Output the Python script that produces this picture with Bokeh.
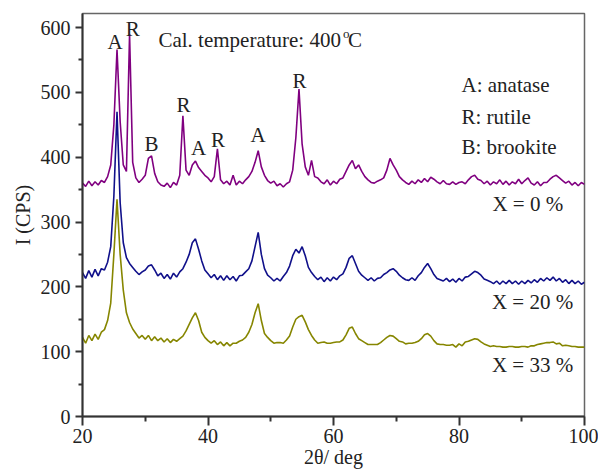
from bokeh.plotting import figure
from bokeh.models import FixedTicker, Range1d, ColumnDataSource
from bokeh.core.properties import value
from bokeh.embed import file_html
from bokeh.resources import INLINE

# 2-theta grid (deg), step 0.5
two_theta = [20 + 0.5 * i for i in range(161)]

# X = 0 % (purple)
i_x0 = [
    360, 355, 363, 356, 362, 357, 364, 361, 370, 388,
    450, 566, 455, 388, 378, 590, 392, 368, 361, 366,
    372, 398, 402, 375, 362, 357, 355, 360, 353, 361,
    357, 372, 464, 380, 372, 388, 394, 384, 378, 372,
    368, 362, 370, 413, 365, 359, 363, 357, 372, 357,
    363, 359, 365, 370, 378, 392, 410, 385, 372, 364,
    360, 363, 356, 359, 354, 359, 362, 380, 430, 505,
    420, 385, 372, 395, 370, 368, 362, 359, 365, 357,
    363, 359, 366, 368, 378, 388, 395, 382, 388, 378,
    370, 365, 361, 360, 363, 365, 368, 380, 398, 388,
    380, 370, 365, 361, 358, 363, 359, 365, 361, 367,
    362, 369, 366, 362, 359, 364, 359, 358, 362, 358,
    361, 362, 359, 365, 370, 372, 366, 364, 359, 363,
    357, 362, 359, 365, 358, 363, 357, 362, 359, 366,
    359, 364, 368, 360, 357, 362, 356, 361, 361, 366,
    370, 372, 368, 364, 360, 363, 357, 361, 356, 361,
    358,
]

# X = 20 % (blue)
i_x20 = [
    222, 213, 225, 215, 227, 217, 228, 226, 238, 262,
    340, 470, 330, 268, 245, 236, 230, 224, 219, 223,
    226, 232, 234, 226, 217, 221, 213, 219, 212, 221,
    215, 223, 228, 238, 250, 268, 274, 258, 240, 226,
    220, 214, 219, 211, 217, 210, 217, 211, 216, 209,
    217, 218, 223, 228, 240, 262, 284, 250, 228, 218,
    214, 209, 213, 209, 216, 222, 232, 248, 258, 252,
    262, 248, 230, 222, 216, 211, 215, 208, 214, 209,
    215, 211, 217, 220, 230, 244, 248, 236, 224, 218,
    214, 210, 214, 209, 213, 214, 219, 222, 226, 228,
    224, 218, 214, 211, 210, 214, 210, 217, 222, 230,
    236, 228, 219, 213, 211, 209, 213, 208, 212, 207,
    213, 209, 215, 216, 220, 224, 222, 218, 212, 210,
    208, 205, 209, 204, 209, 205, 210, 205, 209, 204,
    209, 205, 210, 206, 211, 207, 213, 209, 214, 210,
    215, 209, 213, 207, 211, 205, 210, 205, 209, 204,
    207,
]

# X = 33 % (olive)
i_x33 = [
    122, 113, 125, 117, 127, 119, 130, 134, 148, 175,
    250, 335, 250, 195, 160, 145, 135, 128, 121, 125,
    119, 125, 117, 123, 117, 121, 115, 120, 114, 119,
    116, 120, 124, 132, 142, 152, 160, 148, 130, 122,
    117, 113, 117, 111, 115, 109, 114, 109, 113, 113,
    116, 118, 122, 130, 142, 160, 174, 148, 128, 122,
    117, 113, 114, 114, 113, 118, 124, 138, 150, 154,
    156, 146, 134, 125, 118, 113, 114, 115, 113, 113,
    114, 115, 115, 118, 126, 136, 138, 128, 120, 117,
    114, 111, 111, 111, 111, 114, 118, 122, 125, 124,
    120, 116, 115, 112, 113, 113, 114, 116, 120, 126,
    128, 124, 117, 112, 111, 111, 110, 110, 111, 107,
    112, 109, 115, 116, 118, 120, 119, 115, 112, 110,
    108, 109, 108, 108, 107, 107, 108, 108, 107, 107,
    108, 108, 107, 109, 109, 111, 112, 113, 114, 114,
    115, 112, 113, 109, 110, 109, 108, 108, 107, 107,
    107,
]

x_ticks = [20, 40, 60, 80, 100]
x_minor = [30, 50, 70, 90]
y_ticks = [0, 100, 200, 300, 400, 500, 600]
y_minor = [50, 150, 250, 350, 450, 550]

# peak labels
peak_labels = ["A", "R", "B", "R", "A", "R", "A", "R"]
peak_x = [25.2, 28.0, 31.0, 36.1, 38.5, 41.6, 48.0, 54.6]
peak_y = [578, 597, 420, 480, 414, 426, 434, 518]

legend_lines = ["A: anatase", "R: rutile", "B: brookite"]
legend_y = [511, 462, 416]

series_labels = ["X = 0 %", "X = 20 %", "X = 33 %"]
series_label_x = [96.6, 98.2, 98.2]
series_label_y = [327, 176, 79]

FONT = "Liberation Serif"
TXT = "#222222"

p = figure(width=598, height=471, output_backend="svg", toolbar_location=None,
           x_range=Range1d(20, 100), y_range=Range1d(0, 621.6),
           min_border_left=82, min_border_right=14, min_border_top=13, min_border_bottom=55)
p.grid.visible = False
p.background_fill_color = "white"
p.border_fill_color = "white"
p.outline_line_color = "#666666"
p.outline_line_width = 1.5

p.line(two_theta, i_x0, color="#800080", line_width=1.6)
p.line(two_theta, i_x20, color="#10108a", line_width=1.6)
p.line(two_theta, i_x33, color="#868600", line_width=1.6)

for ax in (p.xaxis[0], p.yaxis[0]):
    ax.axis_line_color = "#333333"
    ax.axis_line_width = 2
    ax.major_tick_line_color = "#333333"
    ax.major_tick_line_width = 2
    ax.minor_tick_line_color = "#333333"
    ax.minor_tick_line_width = 2
    ax.major_tick_in = 0
    ax.minor_tick_in = 0
    ax.major_label_text_font = FONT
    ax.major_label_text_font_size = "20px"
    ax.major_label_text_color = TXT
    ax.axis_label_text_font = FONT
    ax.axis_label_text_font_size = "20px"
    ax.axis_label_text_font_style = "normal"
    ax.axis_label_text_color = TXT

p.xaxis.major_tick_out = 9
p.xaxis.minor_tick_out = 5
p.yaxis.major_tick_out = 7
p.yaxis.minor_tick_out = 4
p.xaxis.ticker = FixedTicker(ticks=x_ticks, minor_ticks=x_minor)
p.yaxis.ticker = FixedTicker(ticks=y_ticks, minor_ticks=y_minor)
p.xaxis.major_label_standoff = 3
p.yaxis.major_label_standoff = 5
p.xaxis.axis_label = "2θ/ deg"
p.yaxis.axis_label = "I (CPS)"
p.xaxis.axis_label_standoff = 0
p.yaxis.axis_label_standoff = 4

tsrc = ColumnDataSource(dict(x=peak_x, y=peak_y, t=peak_labels))
p.text(x="x", y="y", text="t", source=tsrc, text_font=value(FONT), text_font_size="21px",
       text_align="center", text_baseline="middle", text_color=TXT)

p.text(x=[32.1], y=[580], text=["Cal. temperature: 400"], text_font=value(FONT),
       text_font_size="21px", text_align="left", text_baseline="middle", text_color=TXT)
p.text(x=[61.5], y=[591], text=["o"], text_font=value(FONT),
       text_font_size="13px", text_align="left", text_baseline="middle", text_color=TXT)
p.text(x=[62.3], y=[580], text=["C"], text_font=value(FONT),
       text_font_size="21px", text_align="left", text_baseline="middle", text_color=TXT)

p.text(x=[80.4] * 3, y=legend_y, text=legend_lines, text_font=value(FONT),
       text_font_size="21px", text_align="left", text_baseline="middle", text_color=TXT)

p.text(x=series_label_x, y=series_label_y, text=series_labels, text_font=value(FONT),
       text_font_size="21px", text_align="right", text_baseline="middle", text_color=TXT)

open("out.html", "w").write(file_html(p, INLINE))
